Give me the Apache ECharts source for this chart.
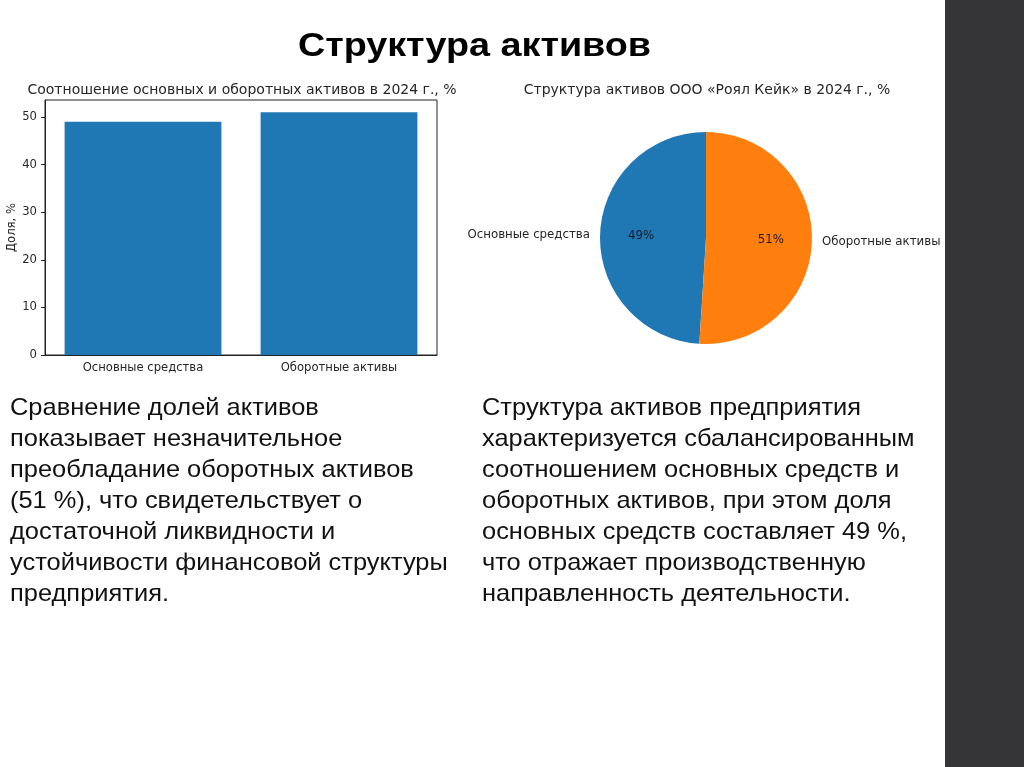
<!DOCTYPE html>
<html>
<head>
<meta charset="utf-8">
<script src="https://cdn.jsdelivr.net/npm/echarts@6/dist/echarts.min.js"></script>
<style>
html,body{margin:0;padding:0;background:#fff;}
#c{width:1024px;height:767px;}
</style>
</head>
<body>
<div id="c"></div>
<script>
// ---- data ----
var slideTitle = 'Структура активов';
var barTitle = 'Соотношение основных и оборотных активов в 2024 г., %';
var pieTitle = 'Структура активов ООО «Роял Кейк» в 2024 г., %';
var categories = ['Основные средства', 'Оборотные активы'];
var shares = [49, 51];
var yTicks = [0, 10, 20, 30, 40, 50];
var yMax = 53.55;
var yAxisName = 'Доля, %';
var leftText = [
  'Сравнение долей активов',
  'показывает незначительное',
  'преобладание оборотных активов',
  '(51 %), что свидетельствует о',
  'достаточной ликвидности и',
  'устойчивости финансовой структуры',
  'предприятия.'
];
var rightText = [
  'Структура активов предприятия',
  'характеризуется сбалансированным',
  'соотношением основных средств и',
  'оборотных активов, при этом доля',
  'основных средств составляет 49 %,',
  'что отражает производственную',
  'направленность деятельности.'
];

var colors = ['#1f77b4', '#ff7f0e'];
var chartFont = 'DejaVu Sans';
var textColor = '#262626';
var slideFont = 'Liberation Sans, Arial, sans-serif';

var pieData = categories.map(function (c, i) {
  return { name: c, value: shares[i], itemStyle: { color: colors[i] } };
});
var pieLabelData = categories.map(function (c, i) {
  return { name: c, value: shares[i] };
});

var chart = echarts.init(document.getElementById('c'));
chart.setOption({
  animation: false,
  backgroundColor: '#ffffff',
  title: [
    {
      text: barTitle, left: 237, top: 78, textAlign: 'center',
      textStyle: { fontFamily: chartFont, fontWeight: 'normal', fontSize: 14, color: textColor }
    },
    {
      text: pieTitle, left: 702, top: 78, textAlign: 'center',
      textStyle: { fontFamily: chartFont, fontWeight: 'normal', fontSize: 14, color: textColor }
    }
  ],
  grid: {
    left: 45, top: 100, width: 392, height: 255,
    show: true, borderColor: '#222', borderWidth: 1, backgroundColor: 'transparent'
  },
  xAxis: {
    type: 'category',
    data: categories,
    axisLine: { lineStyle: { color: '#222', width: 1 } },
    axisTick: { alignWithLabel: true, length: 4, lineStyle: { color: '#222' } },
    axisLabel: { fontFamily: chartFont, fontSize: 11.6, color: textColor, margin: 7 },
    splitLine: { show: false }
  },
  yAxis: {
    type: 'value',
    min: 0, max: yMax,
    name: yAxisName, nameLocation: 'middle', nameRotate: 90, nameGap: 25,
    nameTextStyle: { fontFamily: chartFont, fontSize: 11.6, color: textColor },
    axisLine: { show: true, lineStyle: { color: '#222', width: 1 } },
    axisTick: { show: true, length: 4, lineStyle: { color: '#222' }, customValues: yTicks },
    axisLabel: { fontFamily: chartFont, fontSize: 11.6, color: textColor, margin: 8, customValues: yTicks },
    splitLine: { show: false }
  },
  series: [
    {
      type: 'bar',
      data: shares,
      barWidth: '80%',
      itemStyle: { color: colors[0] },
      silent: true
    },
    {
      type: 'pie',
      center: [706, 238],
      radius: 106,
      startAngle: 90,
      clockwise: false,
      avoidLabelOverlap: false,
      silent: true,
      data: pieData,
      label: {
        show: true, position: 'outside', formatter: '{b}',
        fontFamily: chartFont, fontSize: 11.8, color: textColor,
        distanceToLabelLine: 5
      },
      labelLine: { show: false, length: 5, length2: 0 },
      emphasis: { disabled: true }
    },
    {
      type: 'pie',
      center: [706, 238],
      radius: 124,
      startAngle: 90,
      clockwise: false,
      avoidLabelOverlap: false,
      silent: true,
      data: pieLabelData,
      itemStyle: { color: 'rgba(0,0,0,0)', borderWidth: 0 },
      label: {
        show: true, position: 'inside', formatter: '{d}%',
        fontFamily: chartFont, fontSize: 11.8, color: '#1a1a2a'
      },
      labelLine: { show: false },
      emphasis: { disabled: true }
    }
  ],
  graphic: [
    {
      type: 'rect', shape: { x: 945, y: 0, width: 79, height: 767 },
      style: { fill: '#353537' }, silent: true
    },
    {
      type: 'text', x: 474.5, y: 47, scaleX: 1.11,
      style: {
        text: slideTitle, fontFamily: slideFont, fontWeight: 'bold',
        fontSize: 34, fill: '#000', align: 'center', verticalAlign: 'middle'
      }
    },
    {
      type: 'text', x: 10, y: 392.5, scaleX: 1.06,
      style: {
        text: leftText.join('\n'), fontFamily: slideFont,
        fontSize: 24, lineHeight: 31, fill: '#111', align: 'left', verticalAlign: 'top'
      }
    },
    {
      type: 'text', x: 482, y: 392.5, scaleX: 1.06,
      style: {
        text: rightText.join('\n'), fontFamily: slideFont,
        fontSize: 24, lineHeight: 31, fill: '#111', align: 'left', verticalAlign: 'top'
      }
    }
  ]
});
</script>
</body>
</html>
